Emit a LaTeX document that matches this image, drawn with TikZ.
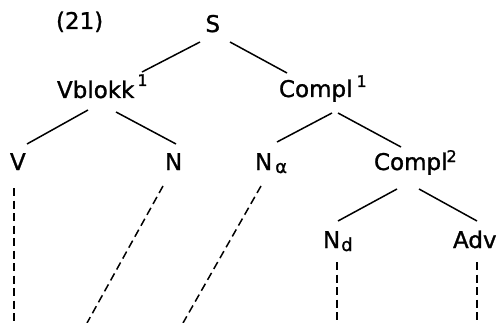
\documentclass[tikz,border=0pt]{standalone}
\usepackage{fontspec}
\setmainfont{DejaVu Sans}[FakeBold=1.2]
\newcommand\mysup[2]{\raisebox{#1}{\fontsize{16}{16}\selectfont #2}}
\newcommand\mysub[2]{\raisebox{-#1}{\fontsize{18}{18}\selectfont #2}}
\begin{document}
\begin{tikzpicture}[x=1pt,y=-1pt,
  lab/.style={font=\fontsize{23}{23}\selectfont, inner sep=0pt, outer sep=0pt, anchor=base west},
  edge/.style={line width=1.5pt},
  trace/.style={line width=1.5pt, dash pattern=on 8pt off 4.5pt}]
\useasboundingbox (0,0) rectangle (497,323);
% nodes
\node[lab] (num) at (56,29) {(21)};
\node[lab] (S) at (205.5,32) {S};
\node[lab] (Vb) at (57,98) {Vblokk\hspace{3pt}\mysup{12pt}{1}};
\node[lab] (C1) at (279,97) {Compl\hspace{4pt}\mysup{10pt}{1}};
\node[lab] (V) at (10,170) {V};
\node[lab] (N) at (165,170) {N};
\node[lab] (Na) at (255,170) {N\hspace{3pt}\mysub{3pt}{α}};
\node[lab] (C2) at (374,170) {Compl\hspace{-1pt}\mysup{8pt}{2}};
\node[lab] (Nd) at (323,248) {N\hspace{1pt}\mysub{3pt}{d}};
\node[lab] (Adv) at (453,248) {Adv};
% free ends of the traces
\coordinate (bV) at (14,323);
\coordinate (bN) at (87,323);
\coordinate (bNa) at (183,323);
\coordinate (bNd) at (337,323);
\coordinate (bAdv) at (477,323);
% tree edges
\draw[edge] ([shift={(-5.5,10)}]S.base west) -- ([shift={(85,-26)}]Vb.base west);
\draw[edge] ([shift={(24.5,10)}]S.base west) -- ([shift={(8,-24)}]C1.base west);
\draw[edge] ([shift={(31,12)}]Vb.base west) -- ([shift={(17,-26)}]V.base west);
\draw[edge] ([shift={(59,14)}]Vb.base west) -- ([shift={(11,-26)}]N.base west);
\draw[edge] ([shift={(53,16)}]C1.base west) -- ([shift={(22,-28)}]Na.base west);
\draw[edge] ([shift={(59,16)}]C1.base west) -- ([shift={(27,-23)}]C2.base west);
\draw[edge] ([shift={(23,19)}]C2.base west) -- ([shift={(15,-27)}]Nd.base west);
\draw[edge] ([shift={(45,19)}]C2.base west) -- ([shift={(24,-27)}]Adv.base west);
% dashed traces
\draw[trace] ([shift={(4,18)}]V.base west) -- (bV);
\draw[trace] ([shift={(-2,16)}]N.base west) -- (bN);
\draw[trace] ([shift={(6,16)}]Na.base west) -- (bNa);
\draw[trace] ([shift={(14,14)}]Nd.base west) -- (bNd);
\draw[trace] ([shift={(24,14)}]Adv.base west) -- (bAdv);
\end{tikzpicture}
\end{document}
